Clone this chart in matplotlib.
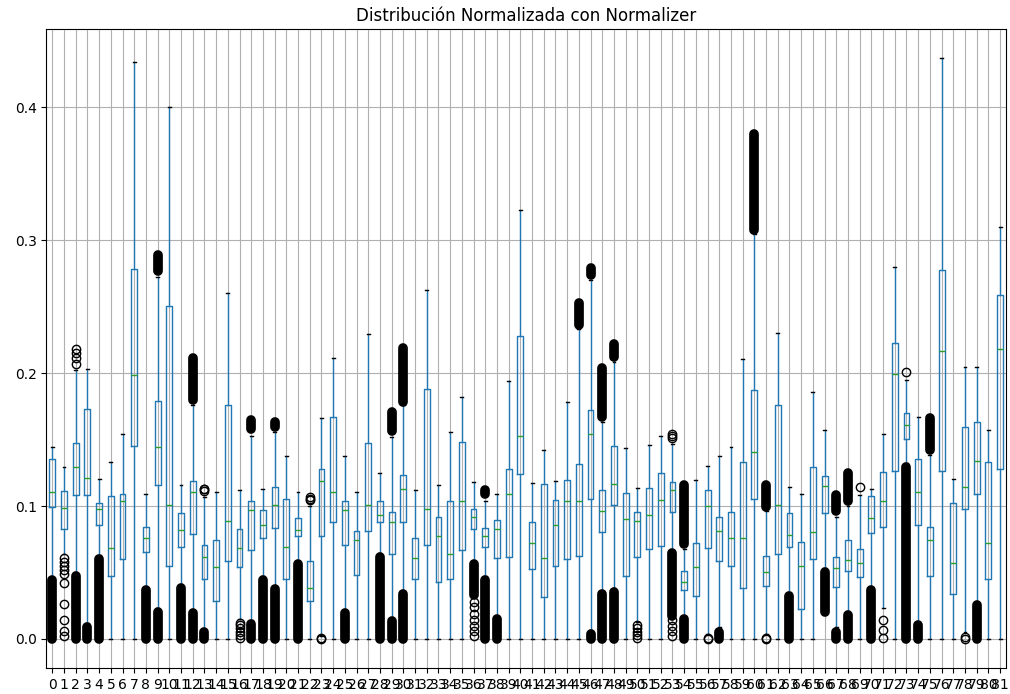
import matplotlib
matplotlib.use("Agg")
import matplotlib.pyplot as plt

# Feature columns after Normalizer scaling
labels = [str(i) for i in range(82)]

# Box statistics per column: lower whisker, Q1, median, Q3, upper whisker
whislo = [0.046, 0.064, 0.050, 0.012, 0.063, 0.0, 0.0, 0.0, 0.039, 0.023,
          0.0, 0.041, 0.022, 0.007, 0.0, 0.0, 0.015, 0.014, 0.047, 0.040,
          0.0, 0.059, 0.0, 0.002, 0.0, 0.022, 0.0, 0.0, 0.0645, 0.016,
          0.036, 0.0, 0.0, 0.0, 0.0, 0.0, 0.059, 0.047, 0.017, 0.0,
          0.0, 0.0, 0.0, 0.0, 0.0, 0.0, 0.007, 0.036, 0.038, 0.0,
          0.013, 0.0, 0.0, 0.067, 0.0175, 0.0, 0.004, 0.009, 0.0, 0.0,
          0.0, 0.004, 0.0, 0.035, 0.0, 0.0, 0.053, 0.009, 0.021, 0.0,
          0.039, 0.023, 0.0, 0.1325, 0.013, 0.0, 0.0, 0.0, 0.005, 0.028,
          0.0, 0.0]
q1 = [0.0995, 0.0825, 0.1081, 0.1081, 0.0856, 0.0473, 0.0602, 0.1452, 0.0655, 0.1158,
      0.0547, 0.0689, 0.0788, 0.0448, 0.0284, 0.0587, 0.0540, 0.0670, 0.0763, 0.0834,
      0.0448, 0.0778, 0.0284, 0.0772, 0.0880, 0.0710, 0.0479, 0.0809, 0.0880, 0.0639,
      0.0880, 0.0448, 0.0710, 0.0432, 0.0448, 0.0670, 0.0825, 0.0689, 0.0608, 0.0618,
      0.1242, 0.0525, 0.0318, 0.0547, 0.0602, 0.0627, 0.1050, 0.0803, 0.1010, 0.0470,
      0.0618, 0.0680, 0.0701, 0.0958, 0.0370, 0.0324, 0.0686, 0.0587, 0.0547, 0.0386,
      0.1056, 0.0395, 0.0639, 0.0695, 0.0222, 0.0602, 0.0951, 0.0392, 0.0510, 0.0463,
      0.0797, 0.0843, 0.1266, 0.1507, 0.0856, 0.0470, 0.1266, 0.0340, 0.0979, 0.1087,
      0.0448, 0.1282]
med = [0.1103, 0.0988, 0.1291, 0.1214, 0.0979, 0.0686, 0.1035, 0.1983, 0.0763, 0.1446,
       0.1010, 0.0819, 0.1103, 0.0618, 0.0540, 0.0886, 0.0686, 0.0973, 0.0856, 0.1004,
       0.0689, 0.0819, 0.0386, 0.1189, 0.1106, 0.0973, 0.0741, 0.1004, 0.0933, 0.0880,
       0.1127, 0.0608, 0.0979, 0.0772, 0.0639, 0.1035, 0.0917, 0.0772, 0.0825, 0.1087,
       0.1529, 0.0720, 0.0608, 0.0856, 0.1041, 0.1035, 0.1538, 0.0964, 0.1164, 0.0902,
       0.0886, 0.0933, 0.1044, 0.1118, 0.0426, 0.0540, 0.0998, 0.0809, 0.0763, 0.0763,
       0.1405, 0.0500, 0.1010, 0.0781, 0.0547, 0.0803, 0.1149, 0.0531, 0.0596, 0.0571,
       0.0911, 0.1041, 0.1992, 0.1612, 0.1103, 0.0741, 0.2168, 0.0571, 0.1143, 0.1337,
       0.0720, 0.2184]
q3 = [0.1353, 0.1112, 0.1476, 0.1730, 0.1019, 0.1072, 0.1087, 0.2786, 0.0843, 0.1790,
      0.2508, 0.0951, 0.1189, 0.0710, 0.0741, 0.1760, 0.0825, 0.1035, 0.0973, 0.1143,
      0.1056, 0.0911, 0.0587, 0.1282, 0.1668, 0.1035, 0.0812, 0.1473, 0.1035, 0.0958,
      0.1236, 0.0763, 0.1884, 0.0917, 0.1041, 0.1483, 0.0979, 0.0834, 0.0896, 0.1282,
      0.2280, 0.0880, 0.1164, 0.1044, 0.1195, 0.1313, 0.1724, 0.1118, 0.1452, 0.1097,
      0.0958, 0.1134, 0.1251, 0.1180, 0.0510, 0.0720, 0.1118, 0.0920, 0.0958, 0.1328,
      0.1869, 0.0624, 0.1761, 0.0948, 0.0726, 0.1291, 0.1229, 0.0618, 0.0747, 0.0680,
      0.1075, 0.1257, 0.2224, 0.1699, 0.1353, 0.0843, 0.2774, 0.1019, 0.1591, 0.1631,
      0.1334, 0.2588]
whishi = [0.1446, 0.1297, 0.2023, 0.2032, 0.1205, 0.1328, 0.1544, 0.434, 0.1087, 0.272,
          0.400, 0.1158, 0.176, 0.107, 0.1106, 0.2604, 0.1121, 0.153, 0.1127, 0.156,
          0.1375, 0.1106, 0.100, 0.1659, 0.2110, 0.1375, 0.1106, 0.2292, 0.1251, 0.152,
          0.176, 0.1118, 0.2625, 0.1158, 0.1554, 0.1822, 0.1180, 0.104, 0.1087, 0.1937,
          0.3228, 0.1174, 0.1421, 0.1189, 0.1785, 0.233, 0.270, 0.163, 0.208, 0.1436,
          0.1137, 0.1458, 0.1529, 0.147, 0.068, 0.1195, 0.1303, 0.1375, 0.1446, 0.2104,
          0.305, 0.096, 0.2301, 0.1143, 0.1087, 0.1860, 0.1569, 0.092, 0.100, 0.108,
          0.1127, 0.1538, 0.2795, 0.195, 0.1668, 0.138, 0.437, 0.1205, 0.2048, 0.2048,
          0.1575, 0.3098]

# Ranges densely packed with outliers (lowest, highest) per column
outlier_bands = {
    0: [(0.0, 0.044)], 2: [(0.0, 0.0475)], 3: [(0.0, 0.009)], 4: [(0.0, 0.0605)],
    8: [(0.0, 0.0365)], 9: [(0.0, 0.020), (0.277, 0.289)], 11: [(0.0, 0.038)],
    12: [(0.0, 0.0195), (0.1795, 0.211)], 13: [(0.0, 0.005)],
    17: [(0.0, 0.0115), (0.158, 0.1648)], 18: [(0.0, 0.0445)],
    19: [(0.0, 0.0375), (0.1597, 0.163)], 21: [(0.0, 0.0567)], 25: [(0.0, 0.0195)],
    28: [(0.0, 0.062)], 29: [(0.0, 0.0135), (0.1565, 0.171)],
    30: [(0.0, 0.0335), (0.178, 0.2185)], 36: [(0.033, 0.0567)],
    37: [(0.0, 0.0445), (0.109, 0.112)], 38: [(0.0, 0.015)], 45: [(0.2365, 0.253)],
    46: [(0.0, 0.004), (0.274, 0.279)], 47: [(0.0, 0.0335), (0.167, 0.2035)],
    48: [(0.0, 0.035), (0.212, 0.222)], 53: [(0.0175, 0.0645)],
    54: [(0.0, 0.015), (0.0715, 0.1155)], 57: [(0.0, 0.0055)], 60: [(0.308, 0.3795)],
    61: [(0.0993, 0.1155)], 63: [(0.0, 0.032)], 66: [(0.020, 0.0505)],
    67: [(0.0, 0.0055), (0.096, 0.108)], 68: [(0.0, 0.018), (0.104, 0.1245)],
    70: [(0.0, 0.0365)], 73: [(0.0, 0.129)], 74: [(0.0, 0.0105)],
    75: [(0.1425, 0.1665)], 79: [(0.0, 0.0255)],
}

# Individually visible outliers per column
outlier_points = {
    1: [0.061, 0.058, 0.055, 0.052, 0.049, 0.042, 0.026, 0.014, 0.006, 0.002],
    2: [0.207, 0.211, 0.215, 0.218],
    13: [0.111, 0.1125, 0.113],
    16: [0.0005, 0.003, 0.0055, 0.008, 0.0105, 0.012],
    22: [0.1045, 0.1055, 0.1065],
    23: [0.0, 0.0005],
    36: [0.028, 0.024, 0.019, 0.014, 0.010, 0.006, 0.002],
    50: [0.0005, 0.003, 0.0055, 0.008, 0.0105],
    53: [0.1515, 0.153, 0.1545, 0.014, 0.010, 0.006, 0.002],
    56: [0.0, 0.001],
    61: [0.0, 0.0008],
    69: [0.114],
    71: [0.0008, 0.007, 0.014],
    73: [0.2008],
    78: [0.0, 0.0015],
}

stats = []
for i, lab in enumerate(labels):
    stats.append(dict(label=lab, whislo=whislo[i], q1=q1[i], med=med[i],
                      q3=q3[i], whishi=whishi[i],
                      fliers=outlier_points.get(i, [])))

fig = plt.figure(figsize=(10.10, 6.94), dpi=100)
ax = fig.add_axes([0.046, 0.0375, 0.950, 0.9207])

positions = list(range(1, len(labels) + 1))
ax.bxp(stats, positions=positions, widths=0.5, showfliers=True,
       boxprops=dict(color="#1f77b4"),
       whiskerprops=dict(color="#1f77b4"),
       medianprops=dict(color="#2ca02c"),
       capprops=dict(color="black"),
       flierprops=dict(marker="o", markersize=6, markerfacecolor="none",
                       markeredgecolor="black", linestyle="none"))

# Dense stacks of outlier circles render as solid black columns
for i, bands in outlier_bands.items():
    for lo, hi in bands:
        ax.plot([positions[i], positions[i]], [lo, hi], color="black",
                lw=7, solid_capstyle="round", zorder=2)

ax.set_xticks(positions)
ax.set_xticklabels(labels)
ax.set_xlim(0.5, len(labels) + 0.5)
ax.grid(True)
ax.set_title("Distribución Normalizada con Normalizer")

fig.savefig("out.png", dpi=100)
